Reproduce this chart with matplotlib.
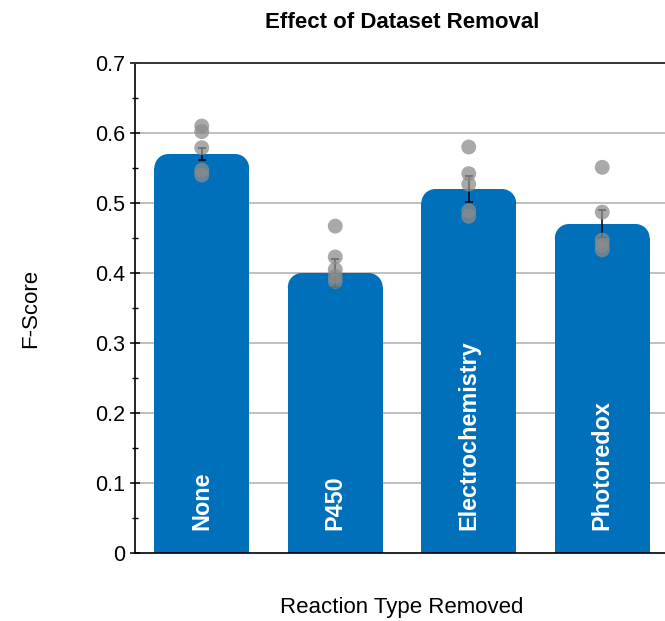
import matplotlib
matplotlib.use("Agg")
import matplotlib.pyplot as plt
from matplotlib.patches import Rectangle, Ellipse
from matplotlib.ticker import MultipleLocator
import numpy as np

plt.rcParams['font.family'] = ['Liberation Sans', 'DejaVu Sans']

# data
categories = ['None', 'P450', 'Electrochemistry', 'Photoredox']
mean_scores = [0.57, 0.40, 0.52, 0.47]
error_bars = [0.009, 0.020, 0.019, 0.020]
run_scores = [
    [0.610, 0.602, 0.579, 0.547, 0.540],
    [0.467, 0.423, 0.405, 0.395, 0.388],
    [0.580, 0.542, 0.527, 0.489, 0.481],
    [0.551, 0.487, 0.447, 0.440, 0.433],
]
y_ticks = [0, 0.1, 0.2, 0.3, 0.4, 0.5, 0.6, 0.7]
y_tick_labels = ['0', '0.1', '0.2', '0.3', '0.4', '0.5', '0.6', '0.7']

bar_color = '#0070ba'
bar_width = 0.71
corner_px = 14

fig = plt.figure(figsize=(6.65, 6.21), dpi=100)
ax = fig.add_axes([0.203, 0.1095, 0.803, 0.789])
ax.set_xlim(-0.5, len(categories) - 0.5)
ax.set_ylim(0, 0.7)

# corner radius in data units for x and y
px_per_x = ax.get_position().width * fig.get_figwidth() * fig.dpi / len(categories)
px_per_y = ax.get_position().height * fig.get_figheight() * fig.dpi / 0.7
rx = corner_px / px_per_x
ry = corner_px / px_per_y


def rounded_bar(ax, xc, height, width, color):
    """Bar with rounded top corners, built from rectangles and ellipses."""
    x0 = xc - width / 2
    x1 = xc + width / 2
    parts = [
        Rectangle((x0, 0), width, height - ry),
        Rectangle((x0 + rx, 0), width - 2 * rx, height),
        Ellipse((x0 + rx, height - ry), 2 * rx, 2 * ry),
        Ellipse((x1 - rx, height - ry), 2 * rx, 2 * ry),
    ]
    for p in parts:
        p.set_facecolor(color)
        p.set_edgecolor('none')
        p.set_linewidth(0)
        p.set_zorder(2)
        ax.add_patch(p)


x = np.arange(len(categories))
for i, v in enumerate(mean_scores):
    rounded_bar(ax, x[i], v, bar_width, bar_color)
    ax.text(x[i], 0.033, categories[i], rotation=90, ha='center', va='bottom',
            color='white', fontsize=16.8, fontweight='bold', zorder=5)

ax.errorbar(x, mean_scores, yerr=error_bars, fmt='none', ecolor='black',
            elinewidth=1.1, capsize=3, capthick=1.1, zorder=3)

for i, scores in enumerate(run_scores):
    ax.scatter(np.full(len(scores), x[i]), scores, s=115, color='#8c8c8c',
               alpha=0.75, edgecolors='none', zorder=4)

ax.set_yticks(y_ticks)
ax.set_yticklabels(y_tick_labels, fontsize=15.5)
ax.yaxis.set_minor_locator(MultipleLocator(0.05))
ax.set_xticks([])
ax.tick_params(axis='y', which='major', direction='inout', length=7, width=1.1)
ax.tick_params(axis='y', which='minor', direction='inout', length=4, width=1)

for yv in y_ticks[1:-1]:
    ax.axhline(yv, color='#b4b4b4', linewidth=1.2, zorder=1)

ax.spines['right'].set_visible(False)
ax.spines['left'].set_linewidth(1.2)
ax.spines['bottom'].set_linewidth(1.2)
ax.spines['top'].set_linewidth(1.4)
ax.spines['top'].set_color('#333333')

ax.set_title('Effect of Dataset Removal', fontsize=16, fontweight='bold', pad=25)
ax.set_ylabel('F-Score', fontsize=16, labelpad=39)
ax.set_xlabel('Reaction Type Removed', fontsize=16, labelpad=32)

fig.savefig('out.png', dpi=100)
